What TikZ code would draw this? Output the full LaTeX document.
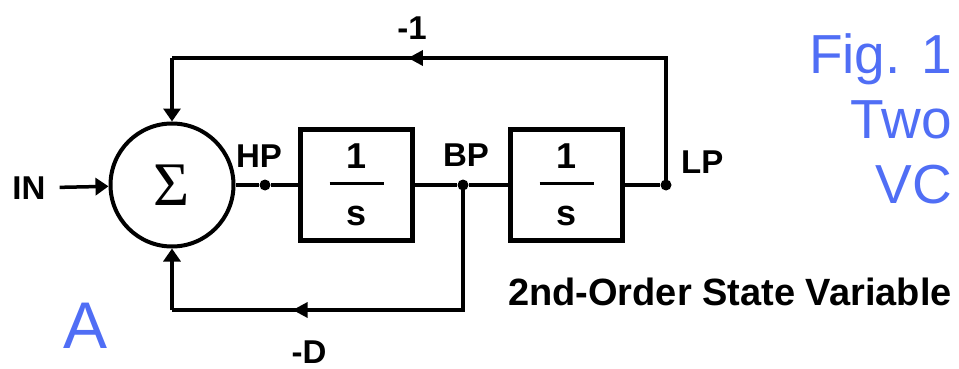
\documentclass[tikz,border=0pt]{standalone}
\usepackage{fontspec}
\setmainfont{Liberation Sans}
\newfontfamily\sigmafont{Liberation Serif}
\usepackage{tikz}
\usetikzlibrary{positioning,arrows.meta,decorations.markings,calc}
\usepackage{xcolor}
\definecolor{figblue}{RGB}{80,110,245}

\begin{document}
\begin{tikzpicture}[
    x=1pt, y=-1pt,
    sumnode/.style={circle, draw, line width=4pt, minimum size=123pt, inner sep=0pt, font=\fontsize{62}{62}\sigmafont},
    intbox/.style={rectangle, draw, line width=5pt, minimum width=112pt, minimum height=111pt},
    fractext/.style={font=\fontsize{36}{36}\selectfont\bfseries, inner sep=0pt},
    fracbar/.style={line width=3pt},
    dotnode/.style={circle, fill, minimum size=11pt, inner sep=0pt},
    sigtext/.style={font=\fontsize{33}{33}\selectfont\bfseries, inner sep=0pt},
    bluetext/.style={text=figblue, font=\fontsize{55}{65}\selectfont, inner sep=0pt},
    wire/.style={line width=3.5pt},
    arrow/.style={wire, -{Triangle[length=13pt,width=17pt]}},
    midarrow/.style={wire, decoration={markings, mark=at position #1 with {\arrow{Triangle[length=15pt,width=15pt]}}}, postaction={decorate}}
]
\useasboundingbox (0,0) rectangle (959,369);

% main signal path
\node[sumnode] (sum) at (172,185) {Σ};
\node[sigtext] (in) at (29,188) {IN};
\node[dotnode] (hp) at (265,185) {};
\node[intbox] (int1) at (356.5,185) {};
\node[dotnode] (bp) at (463,185) {};
\node[intbox] (int2) at (566.5,185) {};
\node[dotnode] (lp) at (666,185) {};

% 1/s inside the integrators
\foreach \b in {int1,int2} {
    \node[fractext, anchor=base] (\b-num) at ([yshift=17pt]\b.center) {1};
    \draw[fracbar] ([xshift=-27pt,yshift=2pt]\b.center) -- ([xshift=27pt,yshift=2pt]\b.center);
    \node[fractext, anchor=base] (\b-den) at ([yshift=-40pt]\b.center) {s};
}

\node[sigtext, above=12pt of hp, xshift=-6pt] (hplabel) {HP};
\node[sigtext, above=13pt of bp, xshift=3pt] (bplabel) {BP};
\node[sigtext, above right=7pt and 11pt of lp] (lplabel) {LP};

\coordinate (topl) at (172,58);
\coordinate (botl) at (172,310);

\draw[arrow, shorten <=14pt] (in) -- (sum);
\draw[wire] (sum) -- (hp) -- (int1) -- (bp) -- (int2) -- (lp);

% feedback loops
\draw[midarrow=0.62] (lp.center) |- (topl);
\draw[arrow] (topl) -- (sum);
\draw[midarrow=0.71] (bp.center) |- (botl);
\draw[arrow] (botl) -- (sum);

\node[sigtext] (gtop) at (412,28) {-1};
\node[sigtext] (gbot) at (309,352) {-D};

\node[sigtext, font=\fontsize{38}{38}\selectfont\bfseries, anchor=base west] (title) at (508,305) {2nd-Order State Variable};
\node[bluetext, align=right, anchor=north east] (fig) at (952,33) {Fig. 1\\Two\\VC};
\node[bluetext, font=\fontsize{66}{66}\selectfont, anchor=base] (part) at (86,348) {A};
\end{tikzpicture}
\end{document}
